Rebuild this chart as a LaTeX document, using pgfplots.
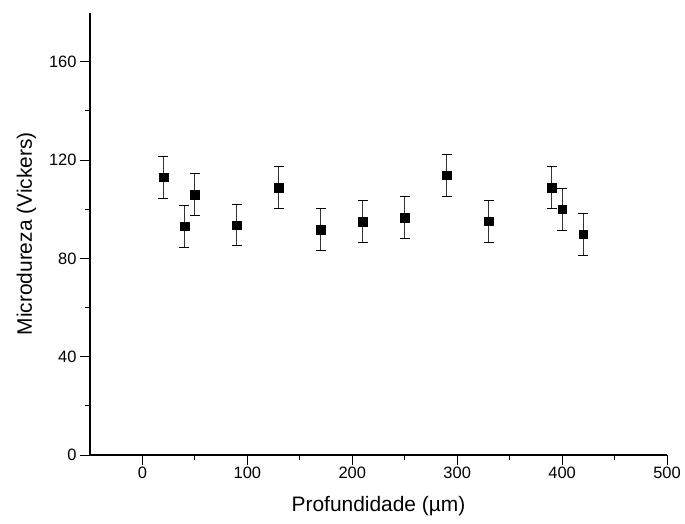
\documentclass[border=0pt]{standalone}
\usepackage{pgfplots}
\pgfplotsset{compat=1.18}
\usepackage{fontspec}
\setmainfont{Liberation Sans}
\begin{document}
\begin{tikzpicture}
\useasboundingbox (-90bp,-69bp) rectangle (595bp,455bp);
\begin{axis}[
  scale only axis,
  width=577bp, height=442.3bp,
  xmin=-50, xmax=500, ymin=0, ymax=180,
  axis x line*=bottom, axis y line*=left,
  axis line style={line width=1.2pt},
  xtick={0,100,200,300,400,500},
  ytick={0,40,80,120,160},
  minor x tick num=1, minor y tick num=1,
  tick align=outside,
  major tick length=10bp, minor tick length=5bp,
  every tick/.style={black, line width=1pt},
  /pgf/number format/assume math mode=true,
  ticklabel style={font=\fontsize{16.5}{19}\selectfont},
  xticklabel style={yshift=1bp},
  label style={font=\fontsize{21}{25}\selectfont},
  xlabel={Profundidade (µm)},
  ylabel={Microdureza (Vickers)},
  xlabel style={yshift=-10bp},
  ylabel style={yshift=6bp},
]
\addplot+[only marks, black, mark=square*, mark size=4.3bp, mark options={fill=black},
  error bars/.cd, y dir=both, y explicit,
  error bar style={line width=0.9pt, black!80},
  error mark options={rotate=90, mark size=5bp, line width=0.9pt, black}]
coordinates {
  (20,113.0) +- (0,8.5)
  (40,93.1) +- (0,8.5)
  (50,105.9) +- (0,8.5)
  (90,93.6) +- (0,8.5)
  (130,108.9) +- (0,8.5)
  (170,91.8) +- (0,8.5)
  (210,94.9) +- (0,8.5)
  (250,96.6) +- (0,8.5)
  (290,113.9) +- (0,8.5)
  (330,95.1) +- (0,8.5)
  (390,108.9) +- (0,8.5)
  (400,100.0) +- (0,8.5)
  (420,89.8) +- (0,8.5)
};
\end{axis}
\end{tikzpicture}
\end{document}
